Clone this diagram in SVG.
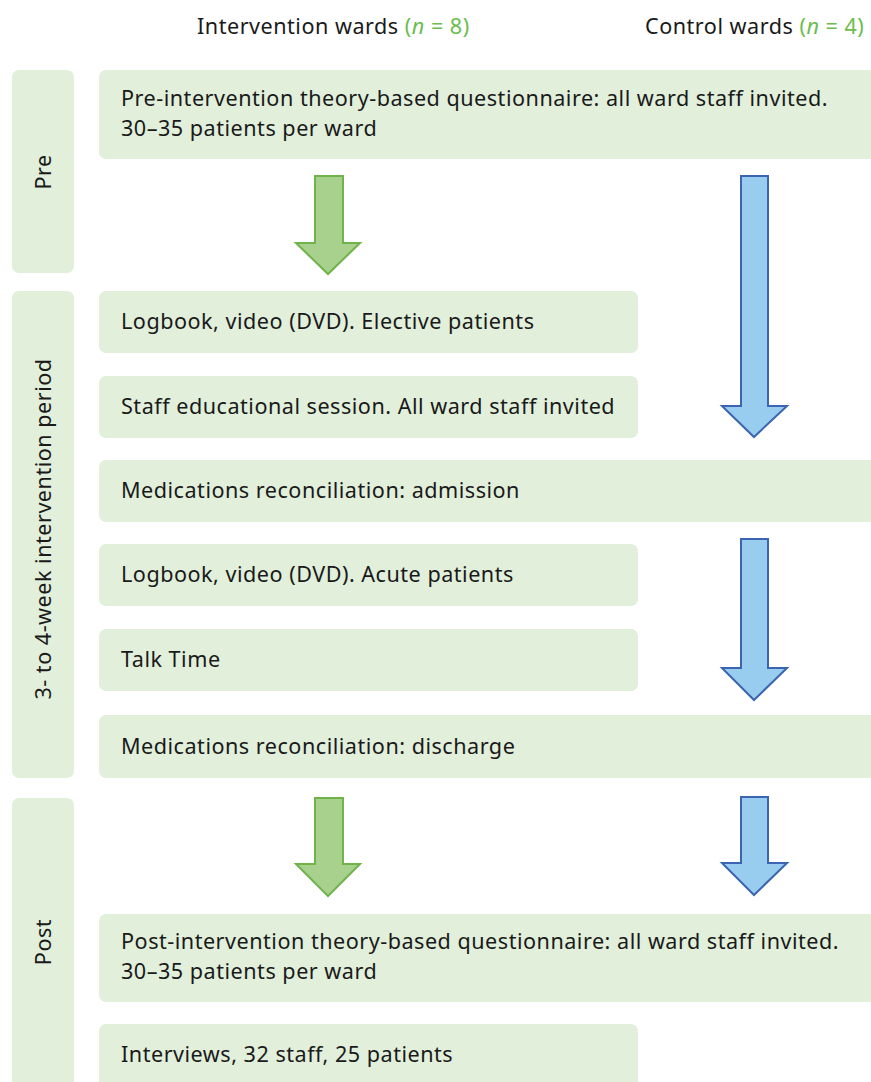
<svg xmlns="http://www.w3.org/2000/svg" width="871" height="1082" viewBox="0 0 871 1082">
  <style>
    .box { fill: #e1efdb; }
    .t { font-family: "Noto Sans", "Open Sans", sans-serif; font-size: 21.6px; letter-spacing: 0.5px; fill: #1a1a1a; }
    .n { fill: #6cbd4e; }
    .garrow { fill: #a9d18e; stroke: #70b34a; stroke-width: 2; stroke-linejoin: miter; }
    .barrow { fill: #99cdf0; stroke: #3b65b0; stroke-width: 2; stroke-linejoin: miter; }
  </style>

  <!-- column headings -->
  <g id="headings">
    <text class="t" x="197" y="34">Intervention wards <tspan class="n">(<tspan font-style="italic">n</tspan> = 8)</tspan></text>
    <text class="t" x="645" y="34">Control wards <tspan class="n">(<tspan font-style="italic">n</tspan> = 4)</tspan></text>
  </g>

  <!-- phase bars -->
  <g id="phase-pre">
    <rect class="box" x="12" y="70" width="62" height="203" rx="7"/>
    <text class="t" transform="translate(51 172) rotate(-90)" text-anchor="middle">Pre</text>
  </g>
  <g id="phase-intervention">
    <rect class="box" x="12" y="291" width="62" height="487" rx="7"/>
    <text class="t" transform="translate(51 529) rotate(-90)" text-anchor="middle">3- to 4-week intervention period</text>
  </g>
  <g id="phase-post">
    <rect class="box" x="12" y="798" width="62" height="300" rx="7"/>
    <text class="t" transform="translate(51 942) rotate(-90)" text-anchor="middle">Post</text>
  </g>

  <!-- activity boxes -->
  <g id="pre-questionnaire">
    <rect class="box" x="99" y="70" width="790" height="89" rx="7"/>
    <text class="t" x="121" y="106">Pre-intervention theory-based questionnaire: all ward staff invited.<tspan x="121" dy="30">30–35 patients per ward</tspan></text>
  </g>
  <g id="logbook-elective">
    <rect class="box" x="99" y="291" width="539" height="62" rx="7"/>
    <text class="t" x="121" y="329">Logbook, video (DVD). Elective patients</text>
  </g>
  <g id="staff-session">
    <rect class="box" x="99" y="376" width="539" height="62" rx="7"/>
    <text class="t" x="121" y="414">Staff educational session. All ward staff invited</text>
  </g>
  <g id="medrec-admission">
    <rect class="box" x="99" y="460" width="790" height="62" rx="7"/>
    <text class="t" x="121" y="498">Medications reconciliation: admission</text>
  </g>
  <g id="logbook-acute">
    <rect class="box" x="99" y="544" width="539" height="62" rx="7"/>
    <text class="t" x="121" y="582">Logbook, video (DVD). Acute patients</text>
  </g>
  <g id="talk-time">
    <rect class="box" x="99" y="629" width="539" height="62" rx="7"/>
    <text class="t" x="121" y="667">Talk Time</text>
  </g>
  <g id="medrec-discharge">
    <rect class="box" x="99" y="715" width="790" height="63" rx="7"/>
    <text class="t" x="121" y="754">Medications reconciliation: discharge</text>
  </g>
  <g id="post-questionnaire">
    <rect class="box" x="99" y="914" width="790" height="88" rx="7"/>
    <text class="t" x="121" y="949">Post-intervention theory-based questionnaire: all ward staff invited.<tspan x="121" dy="30">30–35 patients per ward</tspan></text>
  </g>
  <g id="interviews">
    <rect class="box" x="99" y="1024" width="539" height="80" rx="7"/>
    <text class="t" x="121" y="1062">Interviews, 32 staff, 25 patients</text>
  </g>

  <!-- block arrows -->
  <g id="connectors">
    <polygon class="garrow" points="315,176 343,176 343,243 360,243 328,274 296,243 315,243"/>
    <polygon class="garrow" points="315,798 343,798 343,864 360,864 328,896 296,864 315,864"/>
    <polygon class="barrow" points="741,176 768,176 768,406 787,406 754,437 722,406 741,406"/>
    <polygon class="barrow" points="741,539 768,539 768,668 787,668 754,700 722,668 741,668"/>
    <polygon class="barrow" points="741,797 768,797 768,863 787,863 754,895 722,863 741,863"/>
  </g>
</svg>
